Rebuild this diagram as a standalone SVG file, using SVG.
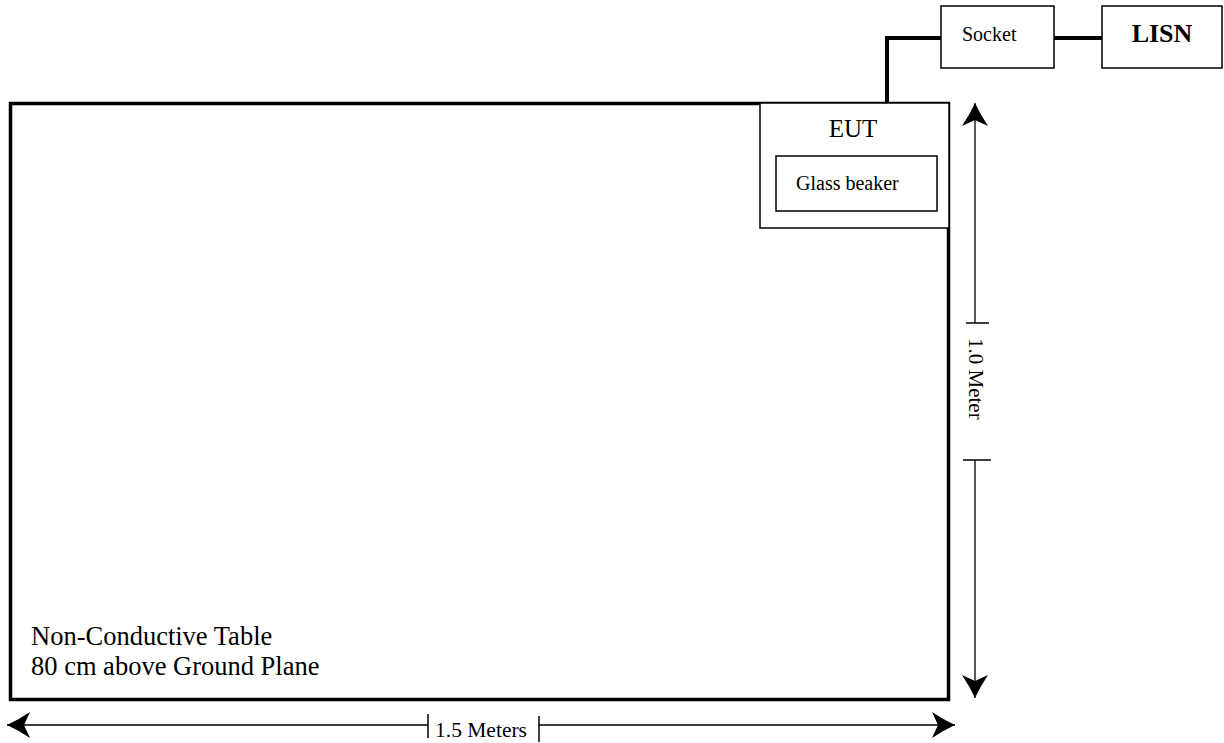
<svg xmlns="http://www.w3.org/2000/svg" width="1224" height="743" viewBox="0 0 1224 743">
  <style>
    text { font-family: "Liberation Serif", "Times New Roman", serif; fill: #000; }
    .box { fill: #fff; stroke: #000; stroke-width: 1.5; }
    .table { fill: #fff; stroke: #000; stroke-width: 3.5; }
    .cable { fill: none; stroke: #000; stroke-width: 4; }
    .dim { fill: none; stroke: #000; stroke-width: 1.3; }
    .tick { fill: none; stroke: #000; stroke-width: 1.5; }
  </style>
  <defs>
    <marker id="arrow" viewBox="-25 -14 26 28" refX="0" refY="0" markerWidth="26" markerHeight="28" markerUnits="userSpaceOnUse" orient="auto-start-reverse">
      <path d="M0,0 Q-11,-5 -23,-13 L-17,0 L-23,13 Q-11,5 0,0 Z" fill="#000"/>
    </marker>
  </defs>
  <rect width="1224" height="743" fill="#fff"/>

  <g id="table">
    <rect class="table" x="10.5" y="103.5" width="938" height="596"/>
    <text x="31" y="645" font-size="26.5">Non-Conductive Table</text>
    <text x="31" y="675" font-size="26.5">80 cm above Ground Plane</text>
  </g>

  <g id="eut">
    <rect class="box" x="760" y="103" width="189" height="125"/>
    <text x="853" y="137" font-size="25" text-anchor="middle">EUT</text>
  </g>

  <g id="glass-beaker">
    <rect class="box" x="776" y="156" width="161" height="55"/>
    <text x="796" y="190" font-size="20">Glass beaker</text>
  </g>

  <g id="socket">
    <rect class="box" x="941" y="6" width="113" height="62"/>
    <text x="962" y="41" font-size="20">Socket</text>
  </g>

  <g id="lisn">
    <rect class="box" x="1102" y="6" width="120" height="62"/>
    <text x="1162" y="42" font-size="26" font-weight="bold" text-anchor="middle">LISN</text>
  </g>

  <g id="connectors">
    <polyline class="cable" points="887,102 887,38 941,38"/>
    <line class="cable" x1="1054" y1="38" x2="1102" y2="38"/>
  </g>

  <g id="dimensions">
    <line class="dim" x1="975" y1="323" x2="975" y2="103" marker-end="url(#arrow)"/>
    <line class="tick" x1="966" y1="323" x2="989" y2="323"/>
    <line class="dim" x1="975" y1="460" x2="975" y2="698" marker-end="url(#arrow)"/>
    <line class="tick" x1="963" y1="460" x2="991" y2="460"/>
    <text transform="translate(969,338) rotate(90)" font-size="21">1.0 Meter</text>

    <line class="dim" x1="428" y1="725" x2="7" y2="725" marker-end="url(#arrow)"/>
    <line class="tick" x1="428" y1="714" x2="428" y2="738"/>
    <line class="dim" x1="539" y1="725" x2="955" y2="725" marker-end="url(#arrow)"/>
    <line class="tick" x1="539" y1="716" x2="539" y2="742"/>
    <text x="435" y="737" font-size="21.5">1.5 Meters</text>
  </g>
</svg>
